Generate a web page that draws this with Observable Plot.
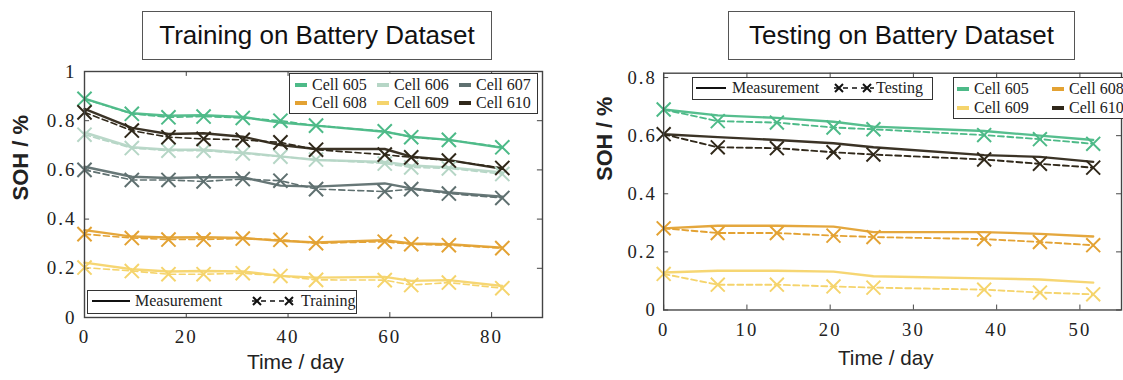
<!DOCTYPE html>
<html>
<head>
<meta charset="utf-8">
<script src="https://cdn.jsdelivr.net/npm/d3@7"></script>
<script src="https://cdn.jsdelivr.net/npm/@observablehq/plot@0.6"></script>
<style>
  html, body { margin: 0; padding: 0; background: #fff; }
  body { width: 1123px; height: 380px; overflow: hidden; position: relative; }
  .panel { position: absolute; top: 0; height: 380px; overflow: hidden; }
  .title { position: absolute; box-sizing: border-box; border: 1.5px solid #555; background: #fff;
           font-family: Arial, "Liberation Sans", sans-serif; font-size: 26px; color: #111;
           display: flex; align-items: center; justify-content: center; }
  .legend { position: absolute; box-sizing: border-box; border: 1.5px solid #333; background: #fff;
            font-family: "Liberation Serif", "DejaVu Serif", "Times New Roman", serif; font-size: 16px; color: #222; }
  .item { position: absolute; white-space: nowrap; display: flex; align-items: center; height: 18px; }
  .sw { display: inline-block; width: 12px; height: 4px; margin-right: 5px; }
</style>
</head>
<body>
<div class="panel" id="left" style="left:0;width:560px;"></div>
<div class="panel" id="right" style="left:560px;width:563px;"></div>
<script>
// ---------- categories & colours ----------
const cells = ["Cell 605", "Cell 606", "Cell 607", "Cell 608", "Cell 609", "Cell 610"];
const cellColors = ["#4dba88", "#b6d6c6", "#5f7070", "#e3a233", "#f5d46c", "#30281a"];

// ---------- training panel ----------
const trainDays = [0, 9.3, 16.5, 23.4, 31.1, 38.5, 45.5, 59, 64.2, 71.6, 82.1];
const meas605 = [0.890, 0.830, 0.820, 0.822, 0.815, 0.792, 0.780, 0.755, 0.735, 0.722, 0.690];
const train605 = [0.889, 0.828, 0.814, 0.817, 0.811, 0.800, 0.780, 0.757, 0.733, 0.722, 0.692];
const meas606 = [0.752, 0.692, 0.682, 0.682, 0.670, 0.655, 0.640, 0.632, 0.618, 0.610, 0.590];
const train606 = [0.743, 0.689, 0.678, 0.678, 0.667, 0.654, 0.642, 0.626, 0.610, 0.606, 0.583];
const meas607 = [0.613, 0.572, 0.567, 0.570, 0.570, 0.536, 0.532, 0.545, 0.525, 0.508, 0.491];
const train607 = [0.600, 0.559, 0.559, 0.553, 0.563, 0.556, 0.522, 0.512, 0.522, 0.504, 0.486];
const meas608 = [0.355, 0.329, 0.325, 0.326, 0.323, 0.312, 0.305, 0.314, 0.301, 0.298, 0.284];
const train608 = [0.339, 0.323, 0.317, 0.317, 0.321, 0.316, 0.302, 0.308, 0.298, 0.294, 0.282];
const meas609 = [0.223, 0.196, 0.187, 0.189, 0.187, 0.169, 0.162, 0.165, 0.149, 0.152, 0.128];
const train609 = [0.203, 0.189, 0.176, 0.176, 0.180, 0.169, 0.153, 0.152, 0.132, 0.142, 0.119];
const meas610 = [0.848, 0.771, 0.746, 0.749, 0.735, 0.701, 0.685, 0.685, 0.654, 0.640, 0.604];
const train610 = [0.834, 0.760, 0.733, 0.726, 0.722, 0.712, 0.682, 0.662, 0.651, 0.638, 0.608];
const trainXTicks = [0, 20, 40, 60, 80];
const trainYTicks = [0, 0.2, 0.4, 0.6, 0.8, 1];

// ---------- testing panel ----------
const testDays = [0, 6.5, 13.6, 20.4, 25.2, 38.5, 45.2, 51.6];
const tmeas605 = [0.690, 0.670, 0.661, 0.648, 0.631, 0.616, 0.600, 0.585];
const test605 = [0.690, 0.650, 0.645, 0.628, 0.622, 0.602, 0.588, 0.572];
const tmeas608 = [0.281, 0.290, 0.290, 0.287, 0.268, 0.268, 0.262, 0.253];
const test608 = [0.281, 0.265, 0.265, 0.256, 0.251, 0.244, 0.234, 0.223];
const tmeas609 = [0.129, 0.135, 0.135, 0.132, 0.116, 0.109, 0.105, 0.094];
const test609 = [0.124, 0.087, 0.087, 0.081, 0.077, 0.070, 0.060, 0.054];
const tmeas610 = [0.605, 0.595, 0.585, 0.574, 0.560, 0.533, 0.527, 0.510];
const test610 = [0.605, 0.560, 0.557, 0.543, 0.535, 0.518, 0.503, 0.490];
const testXTicks = [0, 10, 20, 30, 40, 50];
const testYTicks = [0, 0.2, 0.4, 0.6, 0.8];

// ---------- tidy tables ----------
function tidy(days, series) {
  const rows = [];
  for (const [cell, meas, pred] of series) {
    days.forEach((d, i) => rows.push({cell, day: d, meas: meas[i], pred: pred[i]}));
  }
  return rows;
}
const trainRows = tidy(trainDays, [
  ["Cell 605", meas605, train605], ["Cell 606", meas606, train606], ["Cell 607", meas607, train607],
  ["Cell 608", meas608, train608], ["Cell 609", meas609, train609], ["Cell 610", meas610, train610]
]);
const testRows = tidy(testDays, [
  ["Cell 605", tmeas605, test605], ["Cell 608", tmeas608, test608],
  ["Cell 609", tmeas609, test609], ["Cell 610", tmeas610, test610]
]);

const SERIF = '"Liberation Serif", "DejaVu Serif", "Times New Roman", serif';
const SANS = 'Arial, "Liberation Sans", sans-serif';
const AXIS_LABELS = ["SOH / %", "Time / day"];

function panel(o) {
  const [x0, x1] = o.xDomain, [y0, y1] = o.yDomain;
  const tx = o.tickLenX, ty = o.tickLenY;
  const svg = Plot.plot({
    width: o.width, height: 380,
    marginLeft: o.ml, marginRight: o.mr, marginTop: o.mt, marginBottom: o.mb,
    x: {domain: o.xDomain},
    y: {domain: o.yDomain},
    color: {domain: cells, range: cellColors},
    style: {fontSize: "19px", color: "#222", background: "transparent"},
    marks: [
      Plot.axisX({ticks: o.xTicks, tickSize: 0, tickPadding: o.xPad, label: null, tickFormat: d => String(d)}),
      Plot.axisY({ticks: o.yTicks, tickSize: 0, tickPadding: o.yPad, label: null, tickFormat: d => String(d)}),
      // inward ticks on all four sides
      Plot.ruleX(o.xTicks, {x: d => d, y1: y0, y2: y0 + ty, stroke: "#444"}),
      Plot.ruleX(o.xTicks, {x: d => d, y1: y1, y2: y1 - ty, stroke: "#444"}),
      Plot.ruleY(o.yTicks, {y: d => d, x1: x0, x2: x0 + tx, stroke: "#444"}),
      Plot.ruleY(o.yTicks, {y: d => d, x1: x1, x2: x1 - tx, stroke: "#444"}),
      Plot.line(o.rows, {x: "day", y: "meas", stroke: "cell", strokeWidth: 2.4, strokeOpacity: 0.95}),
      Plot.line(o.rows, {x: "day", y: "pred", stroke: "cell", strokeWidth: o.dashW, strokeDasharray: "6,3.5"}),
      Plot.dot(o.rows, {x: "day", y: "pred", stroke: "cell", symbol: "times", r: 6.5, strokeWidth: 2}),
      Plot.frame({stroke: "#444", strokeWidth: 1.4}),
      Plot.text(["SOH / %"], {frameAnchor: "left", dx: o.yLabDx, dy: o.yLabDy, rotate: -90, lineAnchor: "middle",
        fontWeight: "bold", fontSize: 22, fill: "#222"}),
      Plot.text(["Time / day"], {frameAnchor: "bottom", dx: o.xLabDx, dy: o.xLabDy, lineAnchor: "middle",
        fontSize: 21, fill: "#222"})
    ]
  });
  // fonts: serif, letter-spaced tick labels; sans axis titles
  d3.select(svg).selectAll("text").each(function () {
    const t = d3.select(this);
    if (AXIS_LABELS.includes(this.textContent)) {
      t.style("font-family", SANS).style("letter-spacing", "0px");
    } else {
      t.style("font-family", SERIF).style("letter-spacing", "2px");
    }
  });
  svg.style.position = "absolute";
  svg.style.left = "0px";
  svg.style.top = "0px";
  return svg;
}

const left = document.getElementById("left");
left.append(panel({
  width: 560, ml: 84, mr: 18, mt: 71, mb: 63,
  xDomain: [0, 90], yDomain: [0, 1], xTicks: trainXTicks, yTicks: trainYTicks,
  tickLenX: 1.0, tickLenY: 0.02, xPad: 12, yPad: 8, rows: trainRows, dashW: 1.6,
  yLabDx: -64, yLabDy: 6, xLabDx: -18, xLabDy: 45
}));

const right = document.getElementById("right");
right.append(panel({
  width: 573, ml: 105, mr: 2, mt: 74, mb: 65,
  xDomain: [0, 55], yDomain: [0, 0.815], xTicks: testXTicks, yTicks: testYTicks,
  tickLenX: 0.6, tickLenY: 0.017, xPad: 13, yPad: 7, rows: testRows, dashW: 1.9,
  yLabDx: -60, yLabDy: -11, xLabDx: -7, xLabDy: 49
}));

// ---------- titles ----------
function title(parent, text, l, t, w, h) {
  const d = document.createElement("div");
  d.className = "title";
  Object.assign(d.style, {left: l + "px", top: t + "px", width: w + "px", height: h + "px"});
  d.textContent = text;
  parent.append(d);
}
title(left, "Training on Battery Dataset", 142, 11, 350, 49);
title(right, "Testing on Battery Dataset", 168, 11, 347, 49);

// ---------- legends ----------
function box(parent, l, t, w, h) {
  const d = document.createElement("div");
  d.className = "legend";
  Object.assign(d.style, {left: l + "px", top: t + "px", width: w + "px", height: h + "px"});
  parent.append(d);
  return d;
}
function cellItem(b, name, l, t) {
  const it = document.createElement("div");
  it.className = "item";
  Object.assign(it.style, {left: l + "px", top: t + "px"});
  const sw = document.createElement("span");
  sw.className = "sw";
  sw.style.background = cellColors[cells.indexOf(name)];
  it.append(sw, document.createTextNode(name));
  b.append(it);
}
const NS = "http://www.w3.org/2000/svg";
function glyph(kind, w, gap) {
  const s = document.createElementNS(NS, "svg");
  s.setAttribute("width", w); s.setAttribute("height", 14);
  s.style.marginRight = gap + "px";
  const ln = document.createElementNS(NS, "line");
  ln.setAttribute("x1", 1); ln.setAttribute("x2", w - 1);
  ln.setAttribute("y1", 7); ln.setAttribute("y2", 7);
  ln.setAttribute("stroke", "#111"); ln.setAttribute("stroke-width", kind === "solid" ? 2 : 1.6);
  if (kind !== "solid") ln.setAttribute("stroke-dasharray", "5,4");
  s.append(ln);
  if (kind !== "solid") {
    for (const cx of [6, w - 8]) {
      const p = document.createElementNS(NS, "path");
      p.setAttribute("d", `M${cx - 4},3L${cx + 4},11M${cx - 4},11L${cx + 4},3`);
      p.setAttribute("stroke", "#111"); p.setAttribute("stroke-width", 2);
      s.append(p);
    }
  }
  return s;
}
function lineItem(b, kind, w, gap, label, l) {
  const it = document.createElement("div");
  it.className = "item";
  Object.assign(it.style, {left: l + "px", top: "1px"});
  it.append(glyph(kind, w, gap), document.createTextNode(label));
  b.append(it);
}

// training legends
const lc = box(left, 289, 73, 249, 41);
cells.forEach((c, i) => cellItem(lc, c, 5 + (i % 3) * 82, 2 + Math.floor(i / 3) * 18));
const lm = box(left, 87, 290, 270, 24);
lineItem(lm, "solid", 40, 4, "Measurement", 3);
lineItem(lm, "dash", 46, 4, "Training", 163);

// testing legends
const rm = box(right, 132, 77, 241, 23);
lineItem(rm, "solid", 32, 5, "Measurement", 2);
lineItem(rm, "dash", 42, 1, "Testing", 140);
const rc = box(right, 393, 77, 180, 42);
["Cell 605", "Cell 608", "Cell 609", "Cell 610"].forEach((c, i) =>
  cellItem(rc, c, 3 + (i % 2) * 95, 2 + Math.floor(i / 2) * 19));
</script>
</body>
</html>
